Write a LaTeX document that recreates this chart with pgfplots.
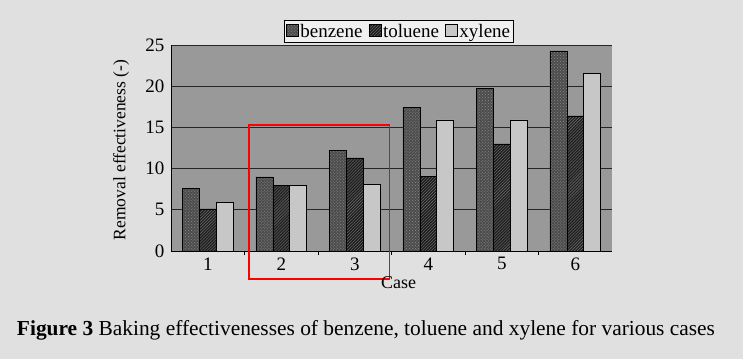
\documentclass[border=0pt]{standalone}
\usepackage{fontspec}
\setmainfont{Liberation Serif}
\usepackage{pgfplots}
\pgfplotsset{compat=1.18}
\usetikzlibrary{patterns}
\begin{document}
\begin{tikzpicture}
\useasboundingbox (0,0) rectangle (743bp,-359bp);
\fill[black!12] (0,0) rectangle (743bp,-359bp);
\begin{axis}[
  at={(171bp,-251bp)}, anchor=south west,
  scale only axis, width=441bp, height=206bp,
  xmin=0.5, xmax=6.5, ymin=0, ymax=25,
  xtick={1,...,6}, ytick={0,5,...,25},
  minor xtick={1.5,2.5,3.5,4.5,5.5},
  major tick length=0pt, minor tick length=4bp, tick align=inside,
  minor tick style={black, line width=0.8bp},
  axis x line*=bottom, axis y line*=left,
  axis line style={black, line width=0.8bp},
  axis background/.style={fill=black!40},
  ymajorgrids, grid style={black!85, line width=0.7bp},
  ybar=0pt, bar width=17bp,
  /pgf/number format/assume math mode=true,
  tick label style={font=\fontsize{19bp}{21bp}\selectfont},
  yticklabel style={xshift=-3bp},
  xticklabel style={yshift=-3bp},
  ylabel={Removal effectiveness (-)},
  ylabel style={at={(axis description cs:-0.113,0.49)}, anchor=center, font=\fontsize{17.5bp}{19bp}\selectfont},
  xlabel={Case},
  xlabel style={at={(axis description cs:0.516,-0.155)}, anchor=center, font=\fontsize{18bp}{20bp}\selectfont},
  legend columns=3,
  legend style={at={(axis description cs:0.517,1.012)}, anchor=south, draw=black, fill=black!6,
    font=\fontsize{19bp}{20bp}\selectfont, inner sep=1.5bp,
    /tikz/every even column/.append style={column sep=4bp}},
  legend image code/.code={\draw[#1, line width=0.5bp] (0bp,-5bp) rectangle (12bp,7bp);},
  clip=false,
]
\addplot[draw=black, fill=black!70, postaction={pattern=crosshatch dots, pattern color=black!45}]
  coordinates {(1,7.6) (2,9.0) (3,12.2) (4,17.4) (5,19.7) (6,24.3)};
\addplot[draw=black, fill=black!88, postaction={pattern=north east lines, pattern color=black!55}]
  coordinates {(1,5.1) (2,8.0) (3,11.3) (4,9.1) (5,13.0) (6,16.4)};
\addplot[draw=black, line width=0.8bp, fill=black!22]
  coordinates {(1,5.9) (2,8.0) (3,8.1) (4,15.9) (5,15.9) (6,21.6)};
\legend{benzene,toluene,xylene}
\draw[red, line width=1.3bp] (axis cs:1.56,15.3) rectangle (axis cs:3.47,-3.4);
\end{axis}
\node[anchor=center, font=\fontsize{21.4bp}{23bp}\selectfont] at (366bp,-330bp)
  {\textbf{Figure 3} Baking effectivenesses of benzene, toluene and xylene for various cases};
\end{tikzpicture}
\end{document}
